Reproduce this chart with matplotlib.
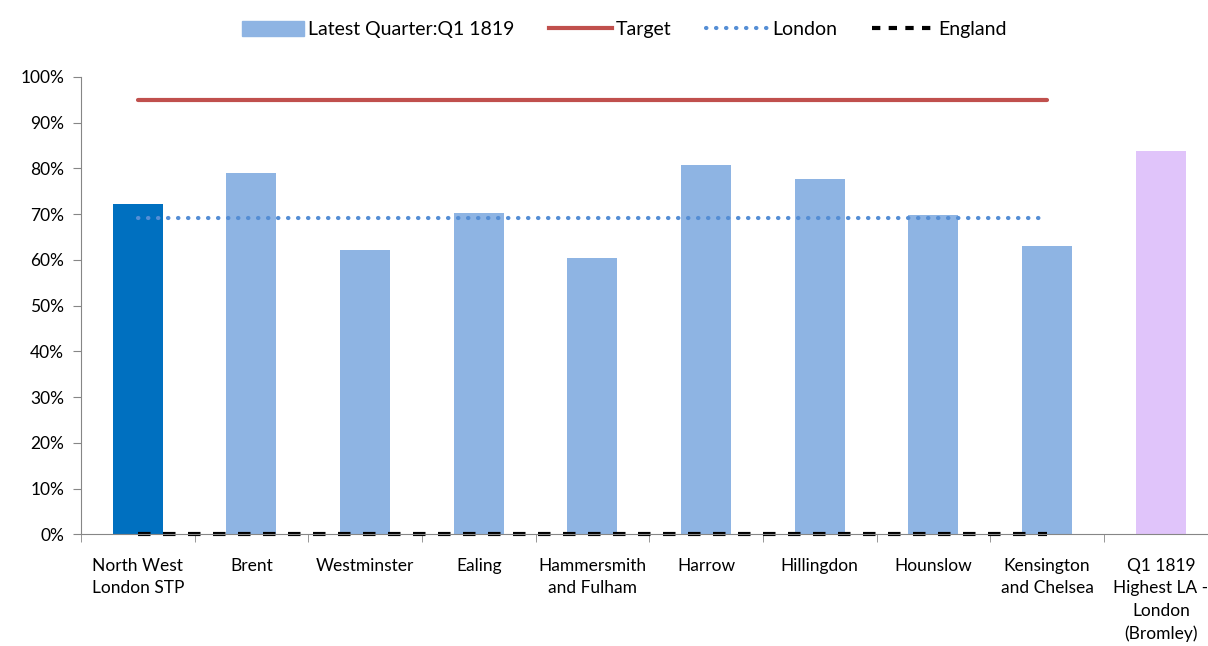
import matplotlib.pyplot as plt
import numpy as np
from matplotlib.ticker import PercentFormatter
from matplotlib.patches import Patch
from matplotlib.lines import Line2D

plt.rcParams['font.family'] = ['Lato', 'DejaVu Sans']

categories = ['North West\nLondon STP', 'Brent', 'Westminster', 'Ealing',
              'Hammersmith\nand Fulham', 'Harrow', 'Hillingdon', 'Hounslow',
              'Kensington\nand Chelsea', 'Q1 1819\nHighest LA -\nLondon\n(Bromley)']
values = [0.722, 0.790, 0.621, 0.702, 0.604, 0.807, 0.777, 0.698, 0.630, 0.838]
bar_colors = ['#0070C0'] + ['#8EB4E3'] * 8 + ['#E0C4FA']
target = [0.95] * 9
london = [0.691] * 9
england = [0.0] * 9

x = np.arange(len(categories))
xl = x[:9]

fig = plt.figure(figsize=(12.08, 6.46), dpi=100)
ax = fig.add_axes([0.067, 0.173, 0.941, 0.708])

ax.bar(x, values, width=0.44, color=bar_colors)
ax.plot(xl, target, color='#C0504D', lw=3, solid_capstyle='round')
ax.plot(xl, london, color='#558ED5', lw=3, linestyle=(0, (0.1, 2.3)),
        dash_capstyle='round')
ax.plot(xl, england, color='black', lw=3, linestyle=(0, (3, 3)), clip_on=False)

ax.set_xlim(-0.5, 9.5)
ax.set_ylim(0, 1)
ax.set_yticks(np.arange(0, 1.01, 0.1))
ax.yaxis.set_major_formatter(PercentFormatter(1.0, decimals=0))
ax.set_xticks(x)
ax.set_xticklabels(categories, fontsize=12.5, linespacing=1.5)
ax.set_xticks(np.arange(-0.5, 9.6, 1), minor=True)
ax.tick_params(axis='x', which='major', length=0, pad=17)
ax.tick_params(axis='x', which='minor', length=6, color='#868686')
ax.tick_params(axis='y', labelsize=12.5, length=6, color='#868686', pad=6)
for s in ['top', 'right']:
    ax.spines[s].set_visible(False)
for s in ['left', 'bottom']:
    ax.spines[s].set_color('#868686')

handles = [Patch(color='#8EB4E3'),
           Line2D([], [], color='#C0504D', lw=3),
           Line2D([], [], color='#558ED5', lw=3, linestyle=(0, (0.1, 2.3)),
                  dash_capstyle='round'),
           Line2D([], [], color='black', lw=3, linestyle=(0, (2, 2)))]
labels = ['Latest Quarter:Q1 1819', 'Target', 'London', 'England']
ax.legend(handles, labels, loc='upper center', bbox_to_anchor=(0.478, 1.16), ncol=4,
          frameon=False, fontsize=14, handlelength=3.2, handleheight=0.8,
          handletextpad=0.2, columnspacing=1.8)

fig.savefig('out.png', dpi=100)
